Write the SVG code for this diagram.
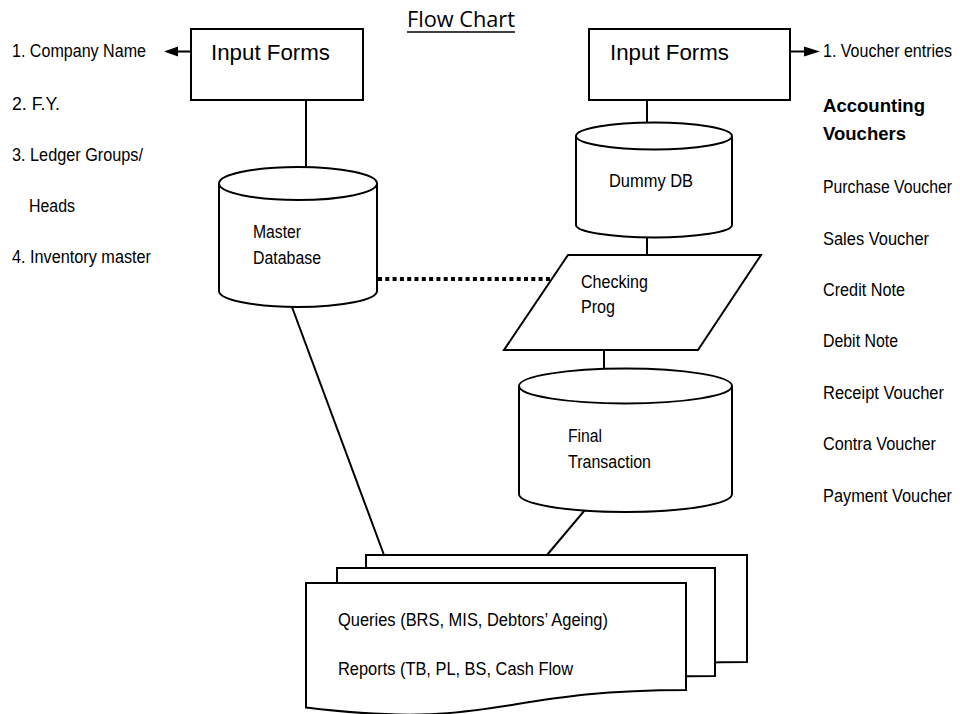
<svg xmlns="http://www.w3.org/2000/svg" width="960" height="714" viewBox="0 0 960 714">
  <style>
    .shape { fill: #ffffff; stroke: #000000; stroke-width: 2; }
    .link { fill: none; stroke: #000000; stroke-width: 2; }
    .dots { fill: none; stroke: #000000; stroke-width: 4; stroke-dasharray: 4 3.3; }
    .head { fill: #000000; stroke: none; }
    text { font-family: "Liberation Sans", Arial, sans-serif; fill: #000000; }
    .lbl { font-size: 17.5px; }
    .big { font-size: 22px; }
    .bold { font-size: 18.5px; font-weight: bold; }
    .title { font-family: "Open Sans", "Lato", sans-serif; font-size: 21px; }
  </style>

  <rect width="960" height="714" fill="#ffffff"/>

  <!-- heading -->
  <g id="title">
    <text class="title" x="407" y="27" textLength="108" lengthAdjust="spacingAndGlyphs">Flow Chart</text>
    <line x1="407" y1="32" x2="515" y2="32" stroke="#000000" stroke-width="1.4"/>
  </g>

  <!-- connectors -->
  <g id="connectors">
    <line class="link" x1="178" y1="51.5" x2="191" y2="51.5"/>
    <polygon class="head" points="164,51.5 178,46.5 178,56.5"/>
    <line class="link" x1="790" y1="51.5" x2="804" y2="51.5"/>
    <polygon class="head" points="820,51.5 804,46.5 804,56.5"/>
    <line class="link" x1="306" y1="100" x2="306" y2="167"/>
    <line class="link" x1="647" y1="100" x2="647" y2="123"/>
    <line class="link" x1="647" y1="237" x2="647" y2="255"/>
    <line class="link" x1="604" y1="350" x2="604" y2="368"/>
    <line class="dots" x1="378" y1="279" x2="551" y2="279"/>
    <line class="link" x1="292" y1="307" x2="384" y2="555"/>
    <line class="link" x1="590" y1="504" x2="547" y2="555"/>
  </g>

  <!-- left input form and master fields -->
  <g id="input-forms-master">
    <rect class="shape" x="191" y="29" width="172" height="71"/>
    <text class="big" x="211" y="60" textLength="119" lengthAdjust="spacingAndGlyphs">Input Forms</text>
  </g>
  <g id="master-fields">
    <text class="lbl" x="12" y="57" textLength="134" lengthAdjust="spacingAndGlyphs">1. Company Name</text>
    <text class="lbl" x="12" y="110" textLength="48" lengthAdjust="spacingAndGlyphs">2. F.Y.</text>
    <text class="lbl" x="12" y="161" textLength="131" lengthAdjust="spacingAndGlyphs">3. Ledger Groups/</text>
    <text class="lbl" x="29" y="212" textLength="46" lengthAdjust="spacingAndGlyphs">Heads</text>
    <text class="lbl" x="12" y="263" textLength="139" lengthAdjust="spacingAndGlyphs">4. Inventory master</text>
  </g>

  <!-- master database cylinder -->
  <g id="master-db">
    <path class="shape" d="M219,183.5 V291 A79,16 0 0 0 377,291 V183.5 A79,16.5 0 0 0 219,183.5 Z"/>
    <path class="link" d="M219,183.5 A79,16.5 0 0 0 377,183.5"/>
    <text class="lbl" x="253" y="238" textLength="48" lengthAdjust="spacingAndGlyphs">Master</text>
    <text class="lbl" x="253" y="264" textLength="68" lengthAdjust="spacingAndGlyphs">Database</text>
  </g>

  <!-- right input form and voucher list -->
  <g id="input-forms-voucher">
    <rect class="shape" x="589" y="29" width="201" height="71"/>
    <text class="big" x="610" y="60" textLength="119" lengthAdjust="spacingAndGlyphs">Input Forms</text>
  </g>
  <g id="voucher-list">
    <text class="lbl" x="823" y="57" textLength="129" lengthAdjust="spacingAndGlyphs">1. Voucher entries</text>
    <text class="bold" x="823" y="112" textLength="102" lengthAdjust="spacingAndGlyphs">Accounting</text>
    <text class="bold" x="823" y="140" textLength="83" lengthAdjust="spacingAndGlyphs">Vouchers</text>
    <text class="lbl" x="823" y="193" textLength="129" lengthAdjust="spacingAndGlyphs">Purchase Voucher</text>
    <text class="lbl" x="823" y="245" textLength="106" lengthAdjust="spacingAndGlyphs">Sales Voucher</text>
    <text class="lbl" x="823" y="296" textLength="82" lengthAdjust="spacingAndGlyphs">Credit Note</text>
    <text class="lbl" x="823" y="347" textLength="75" lengthAdjust="spacingAndGlyphs">Debit Note</text>
    <text class="lbl" x="823" y="399" textLength="121" lengthAdjust="spacingAndGlyphs">Receipt Voucher</text>
    <text class="lbl" x="823" y="450" textLength="113" lengthAdjust="spacingAndGlyphs">Contra Voucher</text>
    <text class="lbl" x="823" y="502" textLength="129" lengthAdjust="spacingAndGlyphs">Payment Voucher</text>
  </g>

  <!-- dummy database cylinder -->
  <g id="dummy-db">
    <path class="shape" d="M576,136 V225 A78,12.5 0 0 0 732,225 V136 A78,13.5 0 0 0 576,136 Z"/>
    <path class="link" d="M576,136 A78,13.5 0 0 0 732,136"/>
    <text class="lbl" x="609" y="187" textLength="84" lengthAdjust="spacingAndGlyphs">Dummy DB</text>
  </g>

  <!-- checking program -->
  <g id="checking-prog">
    <polygon class="shape" points="568,255 761,255 698,350 504,350"/>
    <text class="lbl" x="581" y="288" textLength="67" lengthAdjust="spacingAndGlyphs">Checking</text>
    <text class="lbl" x="581" y="313" textLength="34" lengthAdjust="spacingAndGlyphs">Prog</text>
  </g>

  <!-- final transaction cylinder -->
  <g id="final-transaction">
    <path class="shape" d="M519,386 V494 A106.5,18 0 0 0 732,494 V386 A106.5,17.5 0 0 0 519,386 Z"/>
    <path class="link" d="M519,386 A106.5,17.5 0 0 0 732,386"/>
    <text class="lbl" x="568" y="442" textLength="34" lengthAdjust="spacingAndGlyphs">Final</text>
    <text class="lbl" x="568" y="468" textLength="83" lengthAdjust="spacingAndGlyphs">Transaction</text>
  </g>

  <!-- stacked output documents -->
  <g id="reports">
    <path class="shape" d="M366,555 H747 V662 C556,662 556,702 366,679 Z"/>
    <path class="shape" d="M337,568 H715 V676 C526,676 526,717 337,694 Z"/>
    <path class="shape" d="M306,583 H686 V690 C496,690 496,730.7 306,707.6 Z"/>
    <text class="lbl" x="338" y="626" textLength="270" lengthAdjust="spacingAndGlyphs">Queries (BRS, MIS, Debtors’ Ageing)</text>
    <text class="lbl" x="338" y="675" textLength="235" lengthAdjust="spacingAndGlyphs">Reports (TB, PL, BS, Cash Flow</text>
  </g>
</svg>
